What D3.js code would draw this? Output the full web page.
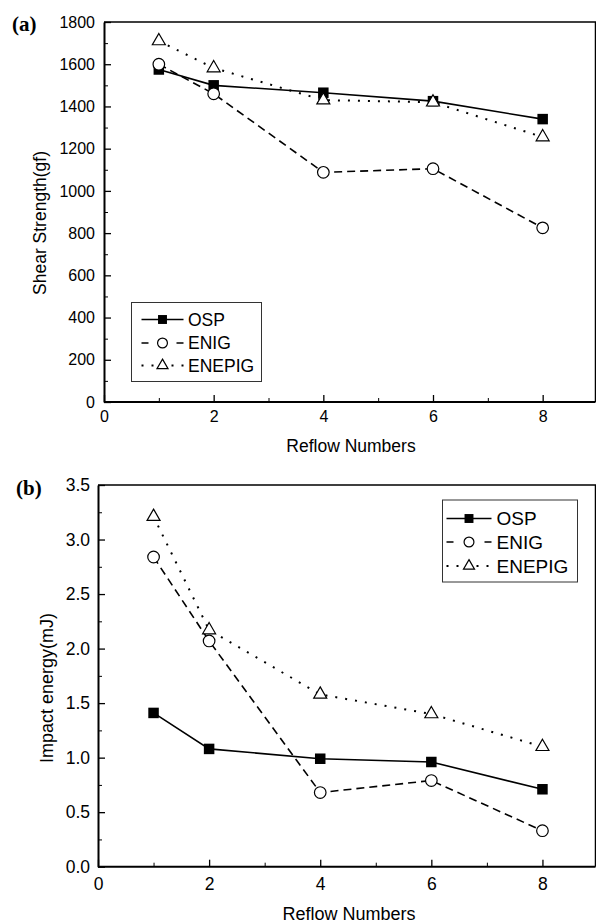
<!DOCTYPE html>
<html>
<head>
<meta charset="utf-8">
<script src="https://cdn.jsdelivr.net/npm/d3@7"></script>
<style>
  html, body { margin: 0; padding: 0; background: #fff; }
  svg { display: block; }
</style>
</head>
<body>
<script>
// ---------- data ----------
const reflow = [1, 2, 4, 6, 8];
const seriesNames = ["OSP", "ENIG", "ENEPIG"];

const shearOSP    = [1575, 1500, 1465, 1425, 1340];
const shearENIG   = [1600, 1460, 1088, 1105, 825];
const shearENEPIG = [1710, 1582, 1430, 1420, 1255];

const impactOSP    = [1.41, 1.08, 0.99, 0.96, 0.71];
const impactENIG   = [2.84, 2.07, 0.68, 0.79, 0.33];
const impactENEPIG = [3.21, 2.17, 1.58, 1.40, 1.10];

const xTicks = [0, 2, 4, 6, 8];
const xMinorTicks = [1, 3, 5, 7];
const shearTicks = [0, 200, 400, 600, 800, 1000, 1200, 1400, 1600, 1800];
const shearMinor = [100, 300, 500, 700, 900, 1100, 1300, 1500, 1700];
const impactTicks = [0, 0.5, 1.0, 1.5, 2.0, 2.5, 3.0, 3.5];
const impactMinor = [0.25, 0.75, 1.25, 1.75, 2.25, 2.75, 3.25];

// ---------- drawing ----------
const W = 596, H = 924;
const svg = d3.select("body").append("svg").attr("width", W).attr("height", H);
const SANS = "'Liberation Sans', Arial, Helvetica, sans-serif";
const SERIF = "'Liberation Serif', 'Times New Roman', serif";

const styles = {
  OSP:    { dash: null,  marker: "square" },
  ENIG:   { dash: "8,5", marker: "circle" },
  ENEPIG: { dash: "2,8", marker: "triangle" }
};

function drawMarker(g, type, x, y, scale) {
  scale = scale || 1;
  if (type === "square") {
    const s = 10.5 * scale;
    g.append("rect").attr("x", x - s / 2).attr("y", y - s / 2).attr("width", s).attr("height", s)
      .attr("fill", "#000");
  } else if (type === "circle") {
    g.append("circle").attr("cx", x).attr("cy", y).attr("r", 5.8 * scale)
      .attr("fill", "#fff").attr("stroke", "#000").attr("stroke-width", 1.2);
  } else {
    const s = 13 * scale;
    g.append("path").attr("transform", `translate(${x},${y})`)
      .attr("d", d3.symbol().type(d3.symbolTriangle).size(Math.sqrt(3) / 4 * s * s)())
      .attr("fill", "#fff").attr("stroke", "#000").attr("stroke-width", 1.2);
  }
}

function panel(cfg) {
  const g = svg.append("g");
  const x = d3.scaleLinear().domain([0, 9]).range([cfg.left, cfg.xEnd]);
  const y = d3.scaleLinear().domain([cfg.yMin, cfg.yMax]).range([cfg.bottom, cfg.top]);

  // frame (top/right)
  g.append("path")
    .attr("d", `M${cfg.left},${cfg.top}H${cfg.right}V${cfg.bottom}`)
    .attr("fill", "none").attr("stroke", "#000").attr("stroke-width", 1.5);

  // minor ticks
  g.append("g").attr("transform", `translate(0,${cfg.bottom})`)
    .call(d3.axisBottom(x).tickValues(xMinorTicks).tickSize(-4).tickFormat(""))
    .call(a => a.select(".domain").remove());
  g.append("g").attr("transform", `translate(${cfg.left},0)`)
    .call(d3.axisLeft(y).tickValues(cfg.yMinor).tickSize(-4).tickFormat(""))
    .call(a => a.select(".domain").remove());

  // major axes
  const xa = g.append("g").attr("transform", `translate(0,${cfg.bottom})`)
    .call(d3.axisBottom(x).tickValues(xTicks).tickSize(-7).tickSizeOuter(0)
      .tickPadding(cfg.xPad).tickFormat(d3.format("d")));
  const ya = g.append("g").attr("transform", `translate(${cfg.left},0)`)
    .call(d3.axisLeft(y).tickValues(cfg.yTicks).tickSize(-7).tickSizeOuter(0)
      .tickPadding(cfg.yPad).tickFormat(cfg.yFormat));
  [xa, ya].forEach(a => {
    a.selectAll("text").attr("font-family", SANS).attr("font-size", cfg.tickFont).attr("fill", "#000");
    a.selectAll("line").attr("stroke", "#000").attr("stroke-width", 1.3);
    a.select(".domain").attr("stroke", "#000").attr("stroke-width", 2);
  });
  // bottom axis line runs to the right frame
  xa.select(".domain").attr("d", `M${cfg.left},0H${cfg.right}`);

  // axis titles
  g.append("text").attr("x", cfg.xTitleX).attr("y", cfg.xTitleY).attr("text-anchor", "middle")
    .attr("font-family", SANS).attr("font-size", cfg.titleFont).text("Reflow Numbers");
  g.append("text").attr("transform", `translate(${cfg.yTitleX},${cfg.yTitleY}) rotate(-90)`)
    .attr("text-anchor", "middle").attr("font-family", SANS).attr("font-size", cfg.titleFont)
    .text(cfg.yTitle);

  // panel label
  g.append("text").attr("x", cfg.labelX).attr("y", cfg.labelY)
    .attr("font-family", SERIF).attr("font-weight", "bold").attr("font-size", 21).text(cfg.label);

  // series
  const line = d3.line().x((d, i) => x(reflow[i])).y(d => y(d));
  cfg.series.forEach((vals, k) => {
    const st = styles[seriesNames[k]];
    g.append("path").datum(vals).attr("d", line)
      .attr("fill", "none").attr("stroke", "#000")
      .attr("stroke-width", st.marker === "triangle" ? 2 : 1.6)
      .attr("stroke-dasharray", st.dash);
  });
  cfg.series.forEach((vals, k) => {
    const st = styles[seriesNames[k]];
    vals.forEach((v, i) => drawMarker(g, st.marker, x(reflow[i]), y(v)));
  });

  // legend
  const L = cfg.legend;
  g.append("rect").attr("x", L.x).attr("y", L.y).attr("width", L.w).attr("height", L.h)
    .attr("fill", "#fff").attr("stroke", "#333").attr("stroke-width", 1);
  seriesNames.forEach((name, k) => {
    const st = styles[name];
    const cy = L.rows[k];
    const lineDash = name === "OSP" ? null : (name === "ENIG" ? `7,${L.lineLen - 14}` : "2,8");
    g.append("line").attr("x1", L.lx).attr("x2", L.lx + L.lineLen).attr("y1", cy).attr("y2", cy)
      .attr("stroke", "#000").attr("stroke-width", name === "ENEPIG" ? 2 : 1.6)
      .attr("stroke-dasharray", lineDash);
    drawMarker(g, st.marker, L.lx + L.lineLen / 2, cy, 0.85);
    g.append("text").attr("x", L.tx).attr("y", cy).attr("dy", "0.36em")
      .attr("font-family", SANS).attr("font-size", L.font).text(name);
  });
}

panel({
  left: 104, right: 595.5, xEnd: 597.5, top: 22, bottom: 402,
  yMin: 0, yMax: 1800, yTicks: shearTicks, yMinor: shearMinor, yFormat: d3.format("d"),
  tickFont: 16, titleFont: 17.5, xPad: 9, yPad: 9,
  xTitleX: 351, xTitleY: 452, yTitleX: 46, yTitleY: 223, yTitle: "Shear Strength(gf)",
  label: "(a)", labelX: 12, labelY: 31,
  series: [shearOSP, shearENIG, shearENEPIG],
  legend: { x: 131.5, y: 302.5, w: 130, h: 79, rows: [319.5, 343, 365.5],
            lx: 141.5, lineLen: 42, tx: 188, font: 17.5 }
});

panel({
  left: 98, right: 595.5, xEnd: 598, top: 485, bottom: 866.7,
  yMin: 0, yMax: 3.5, yTicks: impactTicks, yMinor: impactMinor, yFormat: d3.format(".1f"),
  tickFont: 17.5, titleFont: 18, xPad: 11, yPad: 8,
  xTitleX: 349, xTitleY: 920, yTitleX: 53, yTitleY: 688, yTitle: "Impact energy(mJ)",
  label: "(b)", labelX: 16, labelY: 495,
  series: [impactOSP, impactENIG, impactENEPIG],
  legend: { x: 442.5, y: 500, w: 135, h: 82, rows: [518.5, 542, 566],
            lx: 446.5, lineLen: 45, tx: 496.5, font: 19 }
});
</script>
</body>
</html>
